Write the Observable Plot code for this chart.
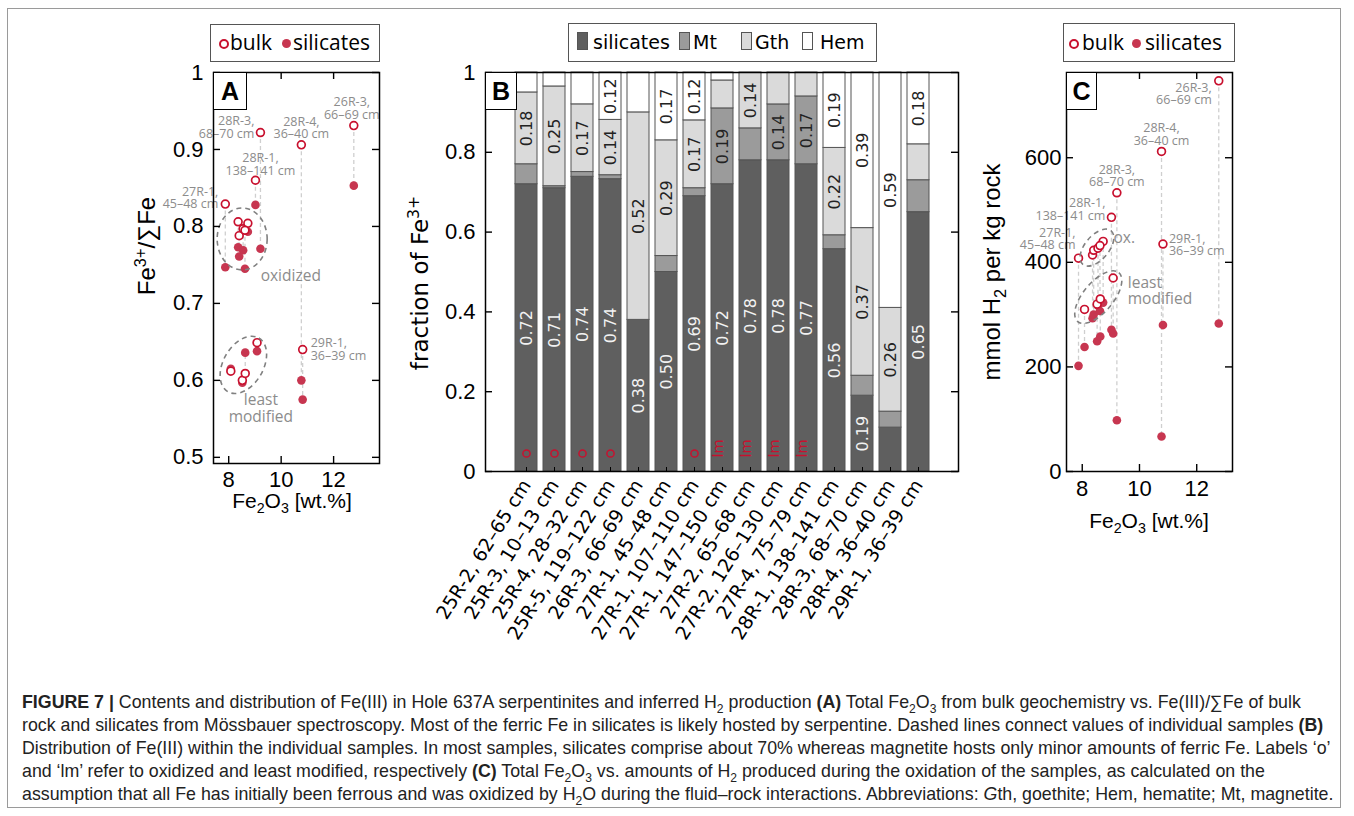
<!DOCTYPE html>
<html>
<head>
<meta charset="utf-8">
<script src="https://cdn.jsdelivr.net/npm/d3@7"></script>
<script src="https://cdn.jsdelivr.net/npm/@observablehq/plot@0.6"></script>
<style>
  body { margin: 0; width: 1354px; height: 816px; position: relative; background: #fff; overflow: hidden;
         font-family: "Liberation Sans", Arial, sans-serif; color: #000; }
  .abs { position: absolute; }
  #border { position: absolute; left: 7px; top: 8px; width: 1334px; height: 800px; border: 1px solid #9a9a9a; box-sizing: border-box; }
  .legend { position: absolute; border: 1px solid #555; background: #fff; box-sizing: border-box; }
  .legend span { position: absolute; white-space: nowrap; }
  .oc { width: 6px; height: 6px; border: 2px solid #c8102e; border-radius: 50%; }
  .fc { width: 9px; height: 9px; background: #c73650; border-radius: 50%; }
  .sw { width: 11px; height: 18px; border: 1px solid #555; box-sizing: border-box; }
  .lt { font-family: "Open Sans", sans-serif; font-size: 21px; line-height: 1; }
  .lb { font-family: "DejaVu Sans", sans-serif; font-size: 19px; line-height: 1; }
  .axl { position: absolute; white-space: nowrap; transform: translate(-50%, -50%); font-size: 21px; }
  .rot { transform: translate(-50%, -50%) rotate(-90deg); }
  .plab { position: absolute; background: #fff; border: 1.5px solid #000; box-sizing: border-box;
          font-weight: bold; font-size: 25px; display: flex; align-items: center; justify-content: center; }
  #caption { position: absolute; left: 22px; top: 691px; font-size: 17.8px; line-height: 23px; color: #222; }
  #caption div { white-space: nowrap; }
  sub, sup { font-size: 0.68em; line-height: 0; }
</style>
</head>
<body>
<div id="border"></div>
<div id="plotA" class="abs" style="left:130px;top:60px"></div>
<div id="plotB" class="abs" style="left:400px;top:60px"></div>
<div id="plotC" class="abs" style="left:990px;top:60px"></div>

<div class="legend" style="left:210px;top:24px;width:170px;height:38px">
  <span class="oc" style="left:8px;top:14px"></span><span class="lt" style="left:19px;top:7px">bulk</span>
  <span class="fc" style="left:71px;top:14px"></span><span class="lt" style="left:82px;top:7px">silicates</span>
</div>
<div class="legend" style="left:1063px;top:23px;width:172px;height:39px">
  <span class="oc" style="left:5px;top:15px"></span><span class="lt" style="left:18px;top:8px">bulk</span>
  <span class="fc" style="left:68px;top:15px"></span><span class="lt" style="left:81px;top:8px">silicates</span>
</div>
<div class="legend" style="left:568px;top:23px;width:309px;height:39px">
  <span class="sw" style="left:8px;top:8px;background:#5f5f5f"></span><span class="lb" style="left:24px;top:9px">silicates</span>
  <span class="sw" style="left:110px;top:8px;background:#9b9b9b"></span><span class="lb" style="left:124px;top:9px">Mt</span>
  <span class="sw" style="left:172px;top:8px;background:#dadada"></span><span class="lb" style="left:186px;top:9px">Gth</span>
  <span class="sw" style="left:233px;top:8px;background:#ffffff"></span><span class="lb" style="left:251px;top:9px">Hem</span>
</div>

<div class="plab" style="left:213px;top:72px;width:34px;height:38px">A</div>
<div class="plab" style="left:485px;top:72px;width:32px;height:38px">B</div>
<div class="plab" style="left:1066px;top:72px;width:31px;height:38px">C</div>

<div class="axl rot" style="left:147px;top:246px;font-size:24px">Fe<sup>3+</sup>/∑Fe</div>
<div class="axl" style="left:292px;top:501px">Fe<sub>2</sub>O<sub>3</sub> [wt.%]</div>
<div class="axl rot" style="left:420px;top:283px;font-family:'DejaVu Sans';font-size:23px">fraction of Fe<sup>3+</sup></div>
<div class="axl rot" style="left:992px;top:272px;font-size:24px">mmol H<sub>2</sub> per kg rock</div>
<div class="axl" style="left:1149px;top:521px">Fe<sub>2</sub>O<sub>3</sub> [wt.%]</div>

<div id="caption">
  <div><b>FIGURE 7 |</b> Contents and distribution of Fe(III) in Hole 637A serpentinites and inferred H<sub>2</sub> production <b>(A)</b> Total Fe<sub>2</sub>O<sub>3</sub> from bulk geochemistry vs. Fe(III)/∑Fe of bulk</div>
  <div>rock and silicates from Mössbauer spectroscopy. Most of the ferric Fe in silicates is likely hosted by serpentine. Dashed lines connect values of individual samples <b>(B)</b></div>
  <div>Distribution of Fe(III) within the individual samples. In most samples, silicates comprise about 70% whereas magnetite hosts only minor amounts of ferric Fe. Labels ‘o’</div>
  <div>and ‘lm’ refer to oxidized and least modified, respectively <b>(C)</b> Total Fe<sub>2</sub>O<sub>3</sub> vs. amounts of H<sub>2</sub> produced during the oxidation of the samples, as calculated on the</div>
  <div>assumption that all Fe has initially been ferrous and was oxidized by H<sub>2</sub>O during the fluid–rock interactions. Abbreviations: <i>G</i>th, goethite; Hem, hematite; Mt, magnetite.</div>
</div>

<script>
// ---------------- DATA ----------------
const sampleNames = ["25R-2, 62–65 cm", "25R-3, 10–13 cm", "25R-4, 28–32 cm", "25R-5, 119–122 cm",
  "26R-3, 66–69 cm", "27R-1, 45–48 cm", "27R-1, 107–110 cm", "27R-1, 147–150 cm", "27R-2, 65–68 cm",
  "27R-2, 126–130 cm", "27R-4, 75–79 cm", "28R-1, 138–141 cm", "28R-3, 68–70 cm", "28R-4, 36–40 cm",
  "29R-1, 36–39 cm"];
const sampleGroup = ["ox", "ox", "ox", "ox", "", "", "ox", "lm", "lm", "lm", "lm", "", "", "", ""];
// Panel A & C: total Fe2O3 (wt.%)
const fe2o3 = [8.36, 8.40, 8.55, 8.73, 12.77, 7.87, 8.62, 8.08, 8.52, 8.63, 9.08, 9.02, 9.21, 10.77, 10.82];
// Panel A: Fe3+/ΣFe
const fe3Bulk = [0.806, 0.788, 0.797, 0.804, 0.931, 0.829, 0.795, 0.612, 0.600, 0.609, 0.649, 0.860, 0.922, 0.906, 0.640];
const fe3Sil  = [0.773, 0.761, 0.769, 0.793, 0.853, 0.747, 0.745, 0.615, 0.597, 0.636, 0.638, 0.828, 0.771, 0.600, 0.575];
// Panel C: mmol H2 per kg rock
const h2Bulk = [414, 423, 427, 440, 747, 408, 432, 310, 320, 330, 370, 486, 533, 612, 435];
const h2Sil  = [293, 300, 317, 323, 283, 202, 307, 238, 249, 258, 264, 271, 98, 67, 280];
// Panel B: fraction of Fe3+ by phase
const phases = ["silicates", "Mt", "Gth", "Hem"];
const silFrac = [0.72, 0.71, 0.74, 0.74, 0.38, 0.50, 0.69, 0.72, 0.78, 0.78, 0.77, 0.56, 0.19, 0.11, 0.65];
const mtFrac  = [0.05, 0.005, 0.012, 0.01, 0, 0.04, 0.02, 0.19, 0.08, 0.14, 0.17, 0.035, 0.05, 0.04, 0.08];
const gthFrac = [0.18, 0.25, 0.17, 0.14, 0.52, 0.29, 0.17, 0.07, 0.14, 0.08, 0.06, 0.22, 0.37, 0.26, 0.09];
const hemFrac = [0.05, 0.035, 0.08, 0.12, 0.10, 0.17, 0.12, 0.02, 0, 0, 0, 0.19, 0.39, 0.59, 0.18];
// tick values
const xTicksAC = [8, 10, 12];
const yTicksA = [0.5, 0.6, 0.7, 0.8, 0.9, 1];
const yTicksB = [0, 0.2, 0.4, 0.6, 0.8, 1];
const yTicksC = [0, 200, 400, 600];

// ---------------- STYLE ----------------
const bulkColor = "#c8102e", silColor = "#c73650", annoColor = "#8c8c8c";
const phaseColors = ["#5f5f5f", "#9b9b9b", "#dadada", "#ffffff"];
const labelColors = ["#f2f2f2", "#222", "#222", "#222"];
const idx = sampleNames.map((_, i) => i);
const fmt = d3.format("~g");

function frameTicks(xt, yt, pw, ph, len) {
  const m = [];
  if (yt) {
    m.push(Plot.ruleY(yt, {y: d => d, insetRight: pw - len, stroke: "#000", strokeWidth: 1.4}));
    m.push(Plot.ruleY(yt, {y: d => d, insetLeft: pw - len, stroke: "#000", strokeWidth: 1.4}));
  }
  if (xt) {
    m.push(Plot.ruleX(xt, {x: d => d, insetTop: ph - len, stroke: "#000", strokeWidth: 1.4}));
    m.push(Plot.ruleX(xt, {x: d => d, insetBottom: ph - len, stroke: "#000", strokeWidth: 1.4}));
  }
  return m;
}

function ellipseMark(cx, cy, rx, ry, rot) {
  return (index, scales) => {
    const e = document.createElementNS("http://www.w3.org/2000/svg", "ellipse");
    const px = scales.x(cx), py = scales.y(cy);
    e.setAttribute("cx", px); e.setAttribute("cy", py);
    e.setAttribute("rx", rx); e.setAttribute("ry", ry);
    e.setAttribute("transform", `rotate(${rot} ${px} ${py})`);
    e.setAttribute("fill", "none"); e.setAttribute("stroke", "#808080");
    e.setAttribute("stroke-width", 1.6); e.setAttribute("stroke-dasharray", "5 4");
    return e;
  };
}

function groupMarks(groups, yBulk, ySil) {
  const marks = [];
  for (const g of groups) {
    const members = idx.filter(i => sampleGroup[i] === g.group);
    const xs = [], ys = [];
    for (const i of members) {
      xs.push(fe2o3[i]); ys.push(yBulk[i]);
      if (g.withSil) { xs.push(fe2o3[i]); ys.push(ySil[i]); }
    }
    const cx = d3.mean(xs), cy = d3.mean(ys);
    marks.push(ellipseMark(cx, cy, g.rx, g.ry, g.rot));
    marks.push(Plot.text([g.label], {x: () => cx, y: () => cy, text: d => d, textAnchor: g.anchor,
      dx: g.ldx, dy: g.ldy, lineAnchor: "middle", lineHeight: 1.05, fontSize: 15.5,
      fontFamily: "Open Sans", fill: annoColor}));
  }
  return marks;
}

function sampleLabels(cfg, yv) {
  return cfg.map(c => Plot.text([c.i], {x: i => fe2o3[i], y: i => yv[i],
    text: i => sampleNames[i].replace(", ", ",\n"), textAnchor: c.anchor, dx: c.dx, dy: c.dy,
    lineAnchor: "middle", lineHeight: 1.0, fontSize: 12.5, fontFamily: "Open Sans", fill: annoColor}));
}

function scatterMarks(yBulk, ySil) {
  return [
    Plot.ruleX(idx, {x: i => fe2o3[i], y1: i => yBulk[i], y2: i => ySil[i], stroke: "#cfcfcf", strokeWidth: 1.3, strokeDasharray: "4 3"}),
    Plot.dot(idx, {x: i => fe2o3[i], y: i => ySil[i], r: 4.3, fill: silColor}),
    Plot.dot(idx, {x: i => fe2o3[i], y: i => yBulk[i], r: 3.9, fill: "white", stroke: bulkColor, strokeWidth: 1.7})
  ];
}

const baseStyle = {overflow: "visible", background: "transparent", fontFamily: "Liberation Sans, Arial, sans-serif", color: "#000"};

// ---------------- PANEL A ----------------
{
  const W = 260, H = 470, ml = 83, mr = 11, mt = 12, mb = 67;
  const pw = W - ml - mr, ph = H - mt - mb;
  const chart = Plot.plot({
    width: W, height: H, marginLeft: ml, marginRight: mr, marginTop: mt, marginBottom: mb,
    style: baseStyle,
    x: {domain: [7.42, 13.75], axis: null}, y: {domain: [0.492, 1], axis: null},
    marks: [
      ...scatterMarks(fe3Bulk, fe3Sil),
      ...groupMarks([
        {group: "ox", withSil: true, rx: 25, ry: 31, rot: 0, label: "oxidized", anchor: "start", ldx: 18, ldy: 36},
        {group: "lm", withSil: true, rx: 31, ry: 20, rot: -60, label: "least\nmodified", anchor: "middle", ldx: 17, ldy: 43}
      ], fe3Bulk, fe3Sil),
      ...sampleLabels([
        {i: 4, anchor: "middle", dx: -2, dy: -17},
        {i: 13, anchor: "middle", dx: 0, dy: -17},
        {i: 12, anchor: "end", dx: -6, dy: -5},
        {i: 11, anchor: "middle", dx: 5, dy: -16},
        {i: 5, anchor: "end", dx: -7, dy: -6},
        {i: 14, anchor: "start", dx: 8, dy: 0}
      ], fe3Bulk),
      Plot.frame({stroke: "#000", strokeWidth: 1.5}),
      ...frameTicks(xTicksAC, yTicksA, pw, ph, 7),
      Plot.axisY(yTicksA, {tickSize: 0, tickPadding: 10, tickFormat: fmt, fontSize: 22, label: null}),
      Plot.axisX(xTicksAC, {tickSize: 0, tickPadding: 8, tickFormat: fmt, fontSize: 22, label: null})
    ]
  });
  document.getElementById("plotA").append(chart);
}

// ---------------- PANEL B ----------------
{
  const W = 570, H = 590, ml = 85, mr = 12, mt = 12, mb = 179;
  const pw = W - ml - mr, ph = H - mt - mb;
  const fracs = [silFrac, mtFrac, gthFrac, hemFrac];
  const rows = [];
  idx.forEach(i => {
    const total = d3.sum(fracs, f => f[i]);
    let acc = 0;
    phases.forEach((p, k) => {
      const v = fracs[k][i];
      rows.push({sample: sampleNames[i], phase: p, k, value: v, y1: acc / total, y2: (acc + v) / total});
      acc += v;
    });
  });
  const labelled = rows.filter(d => d.value >= 0.115);
  const chart = Plot.plot({
    width: W, height: H, marginLeft: ml, marginRight: mr, marginTop: mt, marginBottom: mb,
    style: baseStyle,
    x: {type: "band", domain: sampleNames, paddingInner: 0.23, paddingOuter: 0.955, axis: null},
    y: {domain: [0, 1], axis: null},
    color: {domain: phases, range: phaseColors},
    marks: [
      Plot.barY(rows.filter(d => d.value > 0), {x: "sample", y1: "y1", y2: "y2", fill: "phase", stroke: "#555", strokeWidth: 1}),
      Plot.text(labelled, {x: "sample", y: d => (d.y1 + d.y2) / 2, text: d => d.value.toFixed(2), rotate: -90,
        fill: d => labelColors[d.k], fontSize: 16, fontFamily: "DejaVu Sans"}),
      Plot.dot(idx.filter(i => sampleGroup[i] === "ox"), {x: i => sampleNames[i], frameAnchor: "bottom", dy: -18,
        r: 3.6, stroke: bulkColor, strokeWidth: 1.5, fill: "none"}),
      Plot.text(idx.filter(i => sampleGroup[i] === "lm"), {x: i => sampleNames[i], frameAnchor: "bottom", dy: -23,
        text: () => "lm", rotate: -90, fill: bulkColor, fontSize: 14.5, fontFamily: "DejaVu Sans"}),
      Plot.frame({stroke: "#000", strokeWidth: 1.5}),
      ...frameTicks(null, yTicksB, pw, ph, 7),
      Plot.ruleX(sampleNames, {x: d => d, insetTop: ph - 4, stroke: "#000", strokeWidth: 1}),
      Plot.axisY(yTicksB, {tickSize: 0, tickPadding: 10, tickFormat: fmt, fontSize: 22, label: null}),
      Plot.axisX({tickRotate: -58, tickSize: 0, tickPadding: 10, fontSize: 19, fontFamily: "DejaVu Sans", label: null})
    ]
  });
  document.getElementById("plotB").append(chart);
}

// ---------------- PANEL C ----------------
{
  const W = 260, H = 470, ml = 76, mr = 18, mt = 12, mb = 59;
  const pw = W - ml - mr, ph = H - mt - mb;
  const chart = Plot.plot({
    width: W, height: H, marginLeft: ml, marginRight: mr, marginTop: mt, marginBottom: mb,
    style: baseStyle,
    x: {domain: [7.45, 13.25], axis: null}, y: {domain: [0, 763], axis: null},
    marks: [
      ...scatterMarks(h2Bulk, h2Sil),
      ...groupMarks([
        {group: "ox", withSil: false, rx: 22, ry: 12, rot: -50, label: "ox.", anchor: "start", ldx: 16, ldy: -10},
        {group: "lm", withSil: false, rx: 32, ry: 15, rot: -50, label: "least\nmodified", anchor: "start", ldx: 29, ldy: -7}
      ], h2Bulk, h2Sil),
      ...sampleLabels([
        {i: 4, anchor: "end", dx: -7, dy: 13},
        {i: 13, anchor: "middle", dx: 0, dy: -17},
        {i: 12, anchor: "middle", dx: 0, dy: -17},
        {i: 11, anchor: "end", dx: -6, dy: -8},
        {i: 5, anchor: "end", dx: -3, dy: -19},
        {i: 14, anchor: "start", dx: 6, dy: 1}
      ], h2Bulk),
      Plot.frame({stroke: "#000", strokeWidth: 1.5}),
      ...frameTicks(xTicksAC, yTicksC, pw, ph, 7),
      Plot.axisY(yTicksC, {tickSize: 0, tickPadding: 5, tickFormat: fmt, fontSize: 22, label: null}),
      Plot.axisX(xTicksAC, {tickSize: 0, tickPadding: 9, tickFormat: fmt, fontSize: 22, label: null})
    ]
  });
  document.getElementById("plotC").append(chart);
}
</script>
</body>
</html>
